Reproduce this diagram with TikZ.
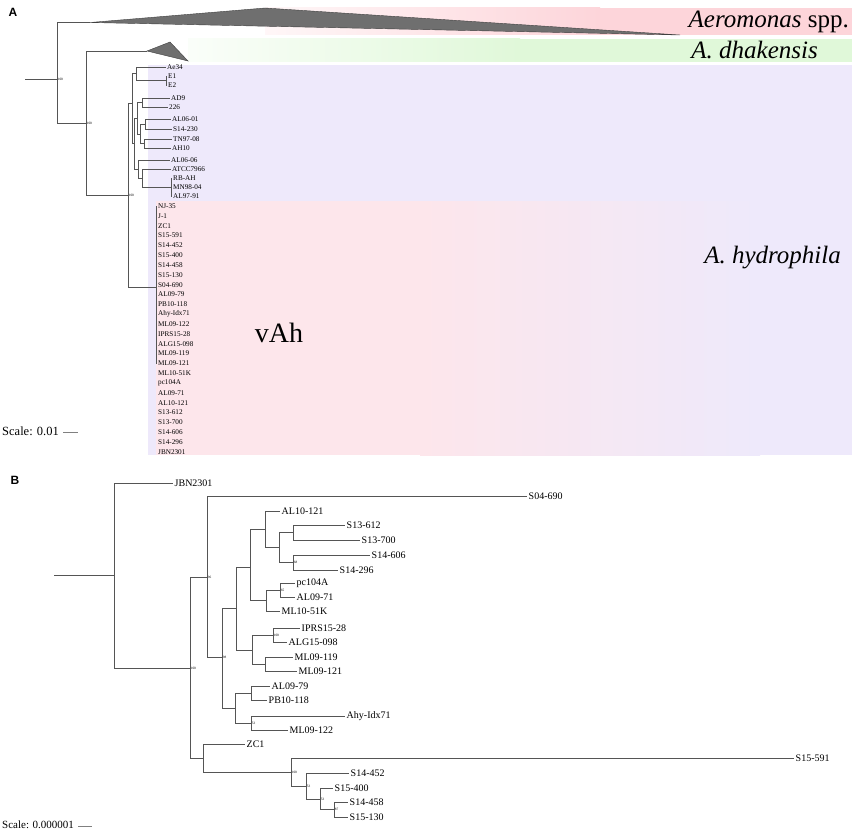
\documentclass[tikz,border=0pt]{standalone}
\usepackage{fontspec}
\setmainfont{Liberation Serif}
\newfontfamily\labelsans{Liberation Sans}
\definecolor{linegray}{HTML}{555555}
\definecolor{bandpink}{HTML}{FDD5DA}
\definecolor{bandgreen}{HTML}{E0F8D9}
\definecolor{bandlav}{HTML}{EEE9FB}
\definecolor{vahpink}{HTML}{FDE6EB}
\definecolor{trigray}{HTML}{6F6F6F}
\begin{document}
\begin{tikzpicture}[x=1pt,y=-1pt,
  treeA/.style={draw=linegray,line width=0.55pt},
  treeB/.style={draw=linegray,line width=0.8pt},
  leafA/.style={anchor=west,inner sep=1pt,font=\fontsize{7.2}{8}\selectfont},
  leafB/.style={anchor=west,inner sep=1.5pt,font=\fontsize{10}{11}\selectfont},
  supp/.style={anchor=west,inner sep=0.6pt,font=\fontsize{3.4}{4}\selectfont},
  clade/.style={font=\fontsize{25}{27}\selectfont,inner sep=0pt},
  panel/.style={font=\labelsans\bfseries\fontsize{12}{12}\selectfont,inner sep=0pt},
  scaletext/.style={anchor=west,inner sep=0pt}]
\useasboundingbox (0,0) rectangle (856,832);
% ---------- bands (panel A) ----------
\fill[bandlav] (148,65) rectangle (852,455);
\fill[vahpink] (156,201) rectangle (420,455);
\shade[left color=vahpink,right color=bandlav] (420,201) rectangle (760,455);
\shade[left color=bandpink!20,right color=bandpink] (265,8) rectangle (600,35);
\fill[bandpink] (600,8) rectangle (852,35);
\shade[left color=bandgreen!15,right color=bandgreen] (188,39) rectangle (520,62);
\fill[bandgreen] (520,39) rectangle (852,62);
% ---------- collapsed clades ----------
\coordinate (aero) at (90,22.5);
\coordinate (dhak) at (147,51);
\filldraw[fill=trigray,draw=black!75,line width=0.4pt] (aero) -- (265,8) -- (680,35) -- cycle;
\filldraw[fill=trigray,draw=black!75,line width=0.4pt] (dhak) -- (170,42) -- (188,61) -- cycle;
\node[clade,anchor=east] (aerolab) at (849,22) {\textit{Aeromonas} spp.};
\node[clade,anchor=east] (dhaklab) at (818,50) {\textit{A. dhakensis}};
\node[clade,anchor=east] (hydlab) at (841,258) {\textit{A. hydrophila}};
\node[font=\fontsize{28}{30}\selectfont,inner sep=0pt] (vahlab) at (279,333) {vAh};
\node[panel] (panA) at (13,12) {A};
\node[panel] (panB) at (15,480) {B};
% ---------- panel A tree ----------
\coordinate (ra0) at (25,79);
\coordinate (ra) at (57,79);
\coordinate (na1) at (86,123);
\coordinate (na2) at (128,195);
\coordinate (nG) at (132,103);
\coordinate (nvah) at (156,287);
\coordinate (vtop) at (156,206);
\coordinate (vbot) at (156,364);
\draw[treeA] (ra0) -- (ra);
\draw[treeA] (ra) |- (aero);
\draw[treeA] (ra) |- (na1);
\draw[treeA] (na1) |- (dhak);
\draw[treeA] (na1) |- (na2);
\draw[treeA] (na2) |- (nG);
\draw[treeA] (na2) |- (nvah);
\draw[treeA] (vtop) -- (vbot);
\node[supp] (sa0) at (ra) {100};
\node[supp] (sa1) at (na1) {100};
\node[supp] (sa2) at (na2) {100};
% internal nodes
\coordinate (nA) at (136,73.75);
\coordinate (nE) at (166,80.5);
\coordinate (nM) at (134,143.5);
\coordinate (nF) at (137,118);
\coordinate (nB) at (142,102.5);
\coordinate (nEn) at (140,134);
\coordinate (nC) at (145,124);
\coordinate (nD) at (144,143.5);
\coordinate (nI) at (138,169);
\coordinate (nH) at (142,178);
\coordinate (nP) at (171,187);
% leaves
\node[leafA] (lAe34) at (166,67) {Ae34};
\node[leafA] (lE1) at (167,76) {E1};
\node[leafA] (lE2) at (167,85) {E2};
\node[leafA] (lAD9) at (170,98) {AD9};
\node[leafA] (l226) at (168,107) {226};
\node[leafA] (lAL0601) at (171,119) {AL06-01};
\node[leafA] (lS14230) at (172,129) {S14-230};
\node[leafA] (lTN9708) at (172,139) {TN97-08};
\node[leafA] (lAH10) at (171,148) {AH10};
\node[leafA] (lAL0606) at (170,160) {AL06-06};
\node[leafA] (lATCC) at (171,169) {ATCC7966};
\node[leafA] (lRBAH) at (172,178) {RB-AH};
\node[leafA] (lMN9804) at (172,187) {MN98-04};
\node[leafA] (lAL9791) at (172,196) {AL97-91};
\draw[treeA] (nG) |- (nA);
\draw[treeA] (nG) |- (nM);
\draw[treeA] (nA) |- (lAe34.west);
\draw[treeA] (nA) |- (nE);
\draw[treeA] (nE) |- (lE1.west);
\draw[treeA] (nE) |- (lE2.west);
\draw[treeA] (nM) |- (nF);
\draw[treeA] (nM) |- (nI);
\draw[treeA] (nF) |- (nB);
\draw[treeA] (nF) |- (nEn);
\draw[treeA] (nB) |- (lAD9.west);
\draw[treeA] (nB) |- (l226.west);
\draw[treeA] (nEn) |- (nC);
\draw[treeA] (nEn) |- (nD);
\draw[treeA] (nC) |- (lAL0601.west);
\draw[treeA] (nC) |- (lS14230.west);
\draw[treeA] (nD) |- (lTN9708.west);
\draw[treeA] (nD) |- (lAH10.west);
\draw[treeA] (nI) |- (lAL0606.west);
\draw[treeA] (nI) |- (nH);
\draw[treeA] (nH) |- (lATCC.west);
\draw[treeA] (nH) |- (nP);
\draw[treeA] (nP) |- (lRBAH.west);
\draw[treeA] (nP) |- (lMN9804.west);
\draw[treeA] (nP) |- (lAL9791.west);
% vAh leaves
\foreach \lab [count=\i from 0] in {NJ-35,J-1,ZC1,S15-591,S14-452,S15-400,S14-458,S15-130,S04-690,AL09-79,PB10-118,Ahy-Idx71,ML09-122,IPRS15-28,ALG15-098,ML09-119,ML09-121,ML10-51K,pc104A,AL09-71,AL10-121,S13-612,S13-700,S14-606,S14-296,JBN2301}
  \node[leafA] (vah\i) at (157,{206+9.84*\i}) {\lab};
% scale A
\node[scaletext,font=\fontsize{12.5}{13}\selectfont] (scA) at (2,431) {Scale: 0.01};
\coordinate (scA1) at (63,432);
\coordinate (scA2) at (78,432);
\draw[draw=gray,line width=0.5pt] (scA1) -- (scA2);
% ---------- panel B tree ----------
\coordinate (rb0) at (54,575);
\coordinate (n0) at (114,575);
\coordinate (n1) at (190,668);
\coordinate (n2) at (207,577);
\coordinate (n3) at (203,758);
\coordinate (n4) at (222,657);
\coordinate (n5) at (236,608);
\coordinate (n6) at (235,708);
\coordinate (n7) at (250,567);
\coordinate (n8) at (252,650);
\coordinate (n9) at (265,529);
\coordinate (n10) at (266,600);
\coordinate (n11) at (279,547);
\coordinate (n12) at (293,532.5);
\coordinate (n13) at (293,562.5);
\coordinate (n14) at (280,590);
\coordinate (n15) at (273,635);
\coordinate (n16) at (265,664);
\coordinate (n17) at (251,693);
\coordinate (n18) at (251,723);
\coordinate (n19) at (291,772);
\coordinate (n20) at (306,786);
\coordinate (n21) at (320,799);
\coordinate (n22) at (334,809.5);
\node[leafB] (bJBN) at (173,483) {JBN2301};
\node[leafB] (bS04690) at (527,496) {S04-690};
\node[leafB] (bAL10121) at (280,511) {AL10-121};
\node[leafB] (bS13612) at (345,525) {S13-612};
\node[leafB] (bS13700) at (360,540) {S13-700};
\node[leafB] (bS14606) at (370,555) {S14-606};
\node[leafB] (bS14296) at (338,570) {S14-296};
\node[leafB] (bpc104A) at (295,583) {pc104A};
\node[leafB] (bAL0971) at (295,597) {AL09-71};
\node[leafB] (bML1051K) at (280,611) {ML10-51K};
\node[leafB] (bIPRS) at (300,628) {IPRS15-28};
\node[leafB] (bALG) at (287,642) {ALG15-098};
\node[leafB] (bML09119) at (293,657) {ML09-119};
\node[leafB] (bML09121) at (297,671) {ML09-121};
\node[leafB] (bAL0979) at (270,686) {AL09-79};
\node[leafB] (bPB10118) at (267,700) {PB10-118};
\node[leafB] (bAhy) at (345,716) {Ahy-Idx71};
\node[leafB] (bML09122) at (288,730) {ML09-122};
\node[leafB] (bZC1) at (245,744) {ZC1};
\node[leafB] (bS15591) at (794,758) {S15-591};
\node[leafB] (bS14452) at (349,773) {S14-452};
\node[leafB] (bS15400) at (333,788) {S15-400};
\node[leafB] (bS14458) at (348,802) {S14-458};
\node[leafB] (bS15130) at (348,817) {S15-130};
\draw[treeB] (rb0) -- (n0);
\draw[treeB] (n0) |- (bJBN.west);
\draw[treeB] (n0) |- (n1);
\draw[treeB] (n1) |- (n2);
\draw[treeB] (n1) |- (n3);
\draw[treeB] (n2) |- (bS04690.west);
\draw[treeB] (n2) |- (n4);
\draw[treeB] (n4) |- (n5);
\draw[treeB] (n4) |- (n6);
\draw[treeB] (n5) |- (n7);
\draw[treeB] (n5) |- (n8);
\draw[treeB] (n7) |- (n9);
\draw[treeB] (n7) |- (n10);
\draw[treeB] (n9) |- (bAL10121.west);
\draw[treeB] (n9) |- (n11);
\draw[treeB] (n11) |- (n12);
\draw[treeB] (n11) |- (n13);
\draw[treeB] (n12) |- (bS13612.west);
\draw[treeB] (n12) |- (bS13700.west);
\draw[treeB] (n13) |- (bS14606.west);
\draw[treeB] (n13) |- (bS14296.west);
\draw[treeB] (n10) |- (n14);
\draw[treeB] (n10) |- (bML1051K.west);
\draw[treeB] (n14) |- (bpc104A.west);
\draw[treeB] (n14) |- (bAL0971.west);
\draw[treeB] (n8) |- (n15);
\draw[treeB] (n8) |- (n16);
\draw[treeB] (n15) |- (bIPRS.west);
\draw[treeB] (n15) |- (bALG.west);
\draw[treeB] (n16) |- (bML09119.west);
\draw[treeB] (n16) |- (bML09121.west);
\draw[treeB] (n6) |- (n17);
\draw[treeB] (n6) |- (n18);
\draw[treeB] (n17) |- (bAL0979.west);
\draw[treeB] (n17) |- (bPB10118.west);
\draw[treeB] (n18) |- (bAhy.west);
\draw[treeB] (n18) |- (bML09122.west);
\draw[treeB] (n3) |- (bZC1.west);
\draw[treeB] (n3) |- (n19);
\draw[treeB] (n19) |- (bS15591.west);
\draw[treeB] (n19) |- (n20);
\draw[treeB] (n20) |- (bS14452.west);
\draw[treeB] (n20) |- (n21);
\draw[treeB] (n21) |- (bS15400.west);
\draw[treeB] (n21) |- (n22);
\draw[treeB] (n22) |- (bS14458.west);
\draw[treeB] (n22) |- (bS15130.west);
% support values B
\node[supp] (s1) at (n1) {100};
\node[supp] (s2) at (n2) {96};
\node[supp] (s4) at (n4) {98};
\node[supp] (s13) at (n13) {68};
\node[supp] (s14) at (n14) {65};
\node[supp] (s15) at (n15) {100};
\node[supp] (s18) at (n18) {53};
\node[supp] (s19) at (n19) {100};
\node[supp] (s20) at (n20) {53};
\node[supp] (s21) at (n21) {53};
\node[supp] (s22) at (n22) {87};
% scale B
\node[scaletext,font=\fontsize{11}{12}\selectfont] (scB) at (2,825) {Scale: 0.000001};
\coordinate (scB1) at (78,826);
\coordinate (scB2) at (92,826);
\draw[draw=gray,line width=0.5pt] (scB1) -- (scB2);
\end{tikzpicture}
\end{document}
